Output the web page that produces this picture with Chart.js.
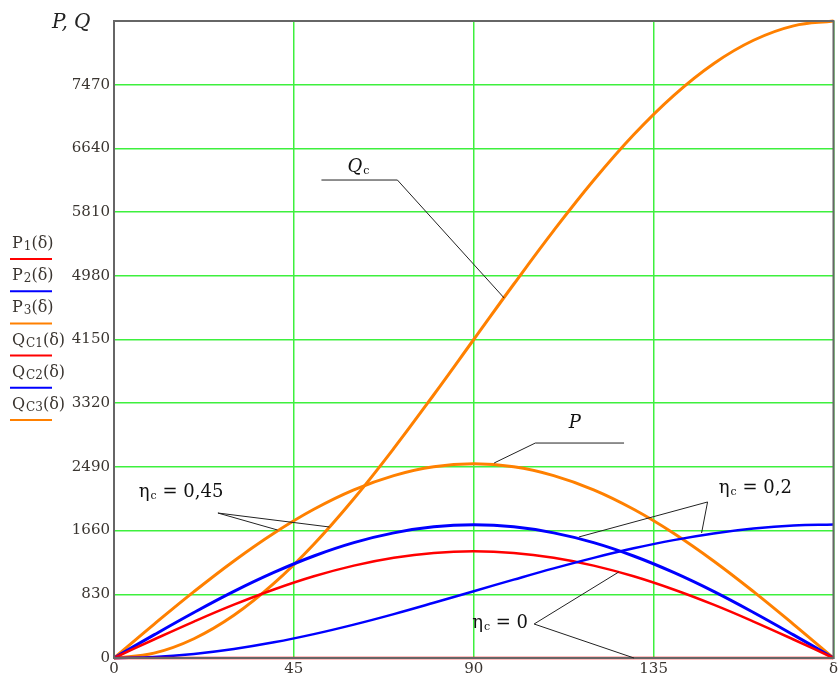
<!DOCTYPE html>
<html>
<head>
<meta charset="utf-8">
<script src="https://cdn.jsdelivr.net/npm/chart.js@4"></script>
<style>
  html, body { margin: 0; padding: 0; background: #fff; }
  #wrap { width: 840px; height: 677px; }
</style>
</head>
<body>
<div id="wrap"><canvas id="chart" width="840" height="677"></canvas></div>
<script>
// load angle, degrees
const delta = [0, 10, 20, 30, 40, 50, 60, 70, 80, 90, 100, 110, 120, 130, 140, 150, 160, 170, 180];

// active power curves
const p1 = [0, 241, 475, 695, 893, 1065, 1204, 1306, 1369, 1390, 1369, 1306, 1204, 1065, 893, 695, 475, 241, 0];
const p2 = [0, 301, 593, 868, 1115, 1329, 1503, 1630, 1709, 1735, 1709, 1630, 1503, 1329, 1115, 868, 593, 301, 0];
const p3 = [0, 439, 865, 1265, 1626, 1938, 2191, 2377, 2492, 2530, 2492, 2377, 2191, 1938, 1626, 1265, 865, 439, 0];

// reactive power curves
const qc1 = [0, 0, 0, 0, 0, 0, 0, 0, 0, 0, 0, 0, 0, 0, 0, 0, 0, 0, 0];
const qc2 = [0, 13, 53, 117, 204, 311, 435, 572, 719, 870, 1021, 1168, 1305, 1429, 1536, 1623, 1687, 1727, 1740];
const qc3 = [0, 63, 251, 556, 971, 1482, 2075, 2731, 3430, 4150, 4870, 5569, 6225, 6818, 7329, 7744, 8049, 8237, 8300];

const xTicks = [0, 45, 90, 135, 180];
const yTicks = [0, 830, 1660, 2490, 3320, 4150, 4980, 5810, 6640, 7470, 8300];

const RED = '#ff0000', BLUE = '#0000ff', ORANGE = '#ff8000';
const SERIF = '"DejaVu Serif", "Liberation Serif", serif';
const TXT = '#3a3530';

// legend rows: main letter, subscript, colour
const legendRows = [
  ['P', '1', RED],
  ['P', '2', BLUE],
  ['P', '3', ORANGE],
  ['Q', 'C1', RED],
  ['Q', 'C2', BLUE],
  ['Q', 'C3', ORANGE]
];

// leader lines, in data units [delta, value]
const leaders = [
  { pts: [[51.9, 6228], [70.9, 6228], [97.6, 4691]] },
  { pts: [[127.6, 2801], [105.4, 2801], [95.1, 2541]] },
  { pts: [[53.9, 1707], [26.0, 1889], [40.9, 1668]] },
  { pts: [[116.3, 1577], [148.5, 2033], [147.0, 1629]] },
  { pts: [[126.3, 1121], [105.1, 443], [130.1, 0]] }
];

// labels: position in data units, main, subscript, tail, italic
const labels = [
  { at: [58.4, 6333], main: 'Q', sub: 'c', tail: '', italic: true },
  { at: [113.8, 2997], main: 'P', sub: '', tail: '', italic: true },
  { at: [6.2, 2098], main: 'η', sub: 'c', tail: ' = 0,45', italic: false },
  { at: [151.3, 2150], main: 'η', sub: 'c', tail: ' = 0,2', italic: false },
  { at: [89.6, 391], main: 'η', sub: 'c', tail: ' = 0', italic: false }
];

function pts(arr) {
  return arr.map((v, i) => ({ x: delta[i], y: v }));
}

function drawSub(ctx, x, y, main, sub, tail, size, italic, subScale) {
  ctx.font = (italic ? 'italic ' : '') + size + 'px ' + SERIF;
  ctx.fillText(main, x, y);
  x += ctx.measureText(main).width;
  if (sub) {
    ctx.font = Math.round(size * (subScale || 0.62)) + 'px ' + SERIF;
    ctx.fillText(sub, x + 1, y + 2);
    x += ctx.measureText(sub).width + 1;
  }
  if (tail) {
    ctx.font = size + 'px ' + SERIF;
    ctx.fillText(tail, x, y);
  }
}

const extras = {
  id: 'extras',
  afterDraw(chart) {
    const ctx = chart.ctx;
    const a = chart.chartArea;
    const xs = chart.scales.x, ys = chart.scales.y;
    ctx.save();

    // frame
    ctx.strokeStyle = '#666';
    ctx.lineWidth = 2;
    ctx.strokeRect(a.left, a.top, a.right - a.left, a.bottom - a.top);

    // leader lines
    ctx.strokeStyle = '#222';
    ctx.lineWidth = 1;
    leaders.forEach(l => {
      ctx.beginPath();
      l.pts.forEach(([dx, dy], i) => {
        const px = xs.getPixelForValue(dx), py = ys.getPixelForValue(dy);
        if (i === 0) ctx.moveTo(px, py); else ctx.lineTo(px, py);
      });
      ctx.stroke();
    });

    // curve labels
    ctx.fillStyle = '#111';
    ctx.textAlign = 'left';
    ctx.textBaseline = 'alphabetic';
    labels.forEach(l => {
      drawSub(ctx, xs.getPixelForValue(l.at[0]), ys.getPixelForValue(l.at[1]),
        l.main, l.sub, l.tail, 18, l.italic);
    });

    // axis title
    ctx.fillStyle = '#222';
    ctx.font = 'italic 20px ' + SERIF;
    ctx.fillText('P, Q', 52, 28);

    // legend on the left
    legendRows.forEach(([m, s, c], i) => {
      const base = 248 + i * 32.2;
      ctx.fillStyle = TXT;
      drawSub(ctx, 12, base, m, s, '(δ)', 16, false, 0.75);
      ctx.strokeStyle = c;
      ctx.lineWidth = 2;
      ctx.beginPath();
      ctx.moveTo(10, base + 11);
      ctx.lineTo(52, base + 11);
      ctx.stroke();
    });
    ctx.restore();
  }
};

function ds(data, color, w) {
  return {
    data: pts(data),
    borderColor: color,
    backgroundColor: color,
    borderWidth: w,
    pointRadius: 0,
    tension: 0.4,
    fill: false,
    clip: 4
  };
}

new Chart(document.getElementById('chart'), {
  type: 'line',
  data: {
    datasets: [
      ds(qc1, RED, 2.5),
      ds(qc2, BLUE, 2.5),
      ds(p1, RED, 2.5),
      ds(p2, BLUE, 3),
      ds(p3, ORANGE, 3),
      ds(qc3, ORANGE, 3)
    ]
  },
  options: {
    responsive: false,
    animation: false,
    layout: { padding: { top: 21, right: 5, left: 0, bottom: 0 } },
    plugins: { legend: { display: false }, tooltip: { enabled: false } },
    scales: {
      x: {
        type: 'linear',
        min: 0,
        max: 180,
        afterBuildTicks: s => { s.ticks = xTicks.map(v => ({ value: v })); },
        afterFit: s => { s.height = 19; },
        ticks: {
          padding: 2,
          color: TXT,
          font: { family: SERIF, size: 15 },
          maxRotation: 0,
          callback: v => (v === 180 ? 'δ' : String(v))
        },
        grid: { color: '#3ef03e', lineWidth: 1.5, drawTicks: false },
        border: { color: '#666', width: 2 }
      },
      y: {
        min: 0,
        max: 8300,
        afterBuildTicks: s => { s.ticks = yTicks.map(v => ({ value: v })); },
        afterFit: s => { s.width = 114; },
        ticks: {
          padding: 4,
          color: TXT,
          font: { family: SERIF, size: 15 },
          callback: v => (v === 8300 ? '' : String(v))
        },
        grid: { color: '#3ef03e', lineWidth: 1.5, drawTicks: false },
        border: { color: '#666', width: 2 }
      }
    }
  },
  plugins: [extras]
});
</script>
</body>
</html>
